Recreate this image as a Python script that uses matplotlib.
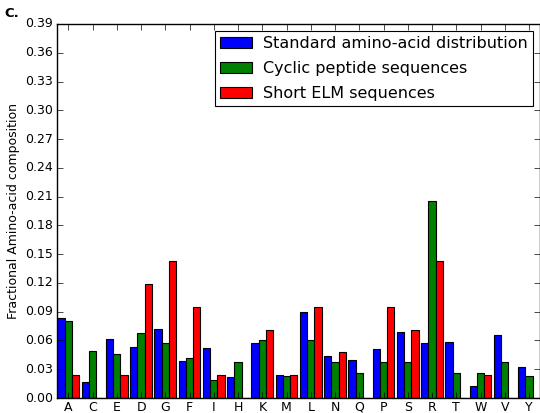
import numpy as np
import matplotlib
matplotlib.use('Agg')
import matplotlib.pyplot as plt


# Amino acids in the order used on the x axis
residues = ['A', 'C', 'E', 'D', 'G', 'F', 'I', 'H', 'K', 'M',
            'L', 'N', 'Q', 'P', 'S', 'R', 'T', 'W', 'V', 'Y']

# Fractional composition per residue
standard = [0.083, 0.017, 0.062, 0.053, 0.072, 0.039, 0.052, 0.022, 0.057, 0.024,
            0.090, 0.044, 0.040, 0.051, 0.069, 0.057, 0.058, 0.013, 0.066, 0.032]
cyclic = [0.080, 0.049, 0.046, 0.068, 0.057, 0.042, 0.019, 0.038, 0.061, 0.023,
          0.061, 0.038, 0.0265, 0.038, 0.038, 0.205, 0.0265, 0.0265, 0.038, 0.023]
short_elm = [0.024, 0.0, 0.024, 0.119, 0.143, 0.095, 0.024, 0.0, 0.071, 0.024,
             0.095, 0.048, 0.0, 0.095, 0.071, 0.143, 0.0, 0.024, 0.0, 0.0]

series_labels = ['Standard amino-acid distribution',
                 'Cyclic peptide sequences',
                 'Short ELM sequences']

y_ticks = np.arange(0, 0.3901, 0.03)


if __name__ == '__main__':

    plt.style.use('classic')

    fig = plt.figure(figsize=(5.4, 4.13), dpi=100)
    fig.patch.set_facecolor('white')
    ax = fig.add_axes([0.1063, 0.0363, 0.8937, 0.9056])

    # Three bars per residue, the green one centred on the tick
    x = np.arange(len(residues))
    width = 0.3
    ax.bar(x - width, standard, width, align='center', color='b',
           edgecolor='k', linewidth=0.8, label=series_labels[0])
    ax.bar(x, cyclic, width, align='center', color='g',
           edgecolor='k', linewidth=0.8, label=series_labels[1])
    ax.bar(x + width, short_elm, width, align='center', color='r',
           edgecolor='k', linewidth=0.8, label=series_labels[2])

    ax.set_xlim(-0.45, len(residues) - 0.55)
    ax.set_ylim(0, 0.39)
    ax.set_xticks(x)
    ax.set_xticklabels(residues, fontsize=9)
    ax.set_yticks(y_ticks)
    ax.set_yticklabels(['%.2f' % v for v in y_ticks], fontsize=9)
    ax.tick_params(axis='both', direction='in', length=4, pad=3)
    ax.tick_params(axis='x', pad=2)
    ax.set_ylabel('Fractional Amino-acid composition', fontsize=9, labelpad=4)

    leg = ax.legend(loc='upper right', fontsize=11.5, handlelength=2.0,
                    handleheight=0.7, labelspacing=0.62, borderpad=0.3,
                    handletextpad=0.7, borderaxespad=0.45, fancybox=False)
    leg.get_frame().set_linewidth(0.8)

    fig.text(0.008, 0.968, 'C.', fontsize=9.5, fontweight='bold',
             ha='left', va='center')

    plt.savefig('out.png', dpi=100, facecolor='white')
    plt.close('all')
